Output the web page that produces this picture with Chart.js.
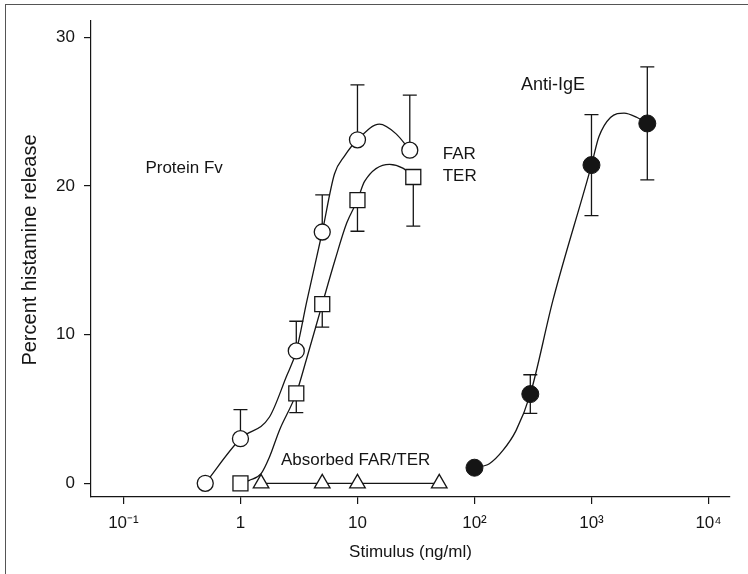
<!DOCTYPE html>
<html>
<head>
<meta charset="utf-8">
<script src="https://cdn.jsdelivr.net/npm/chart.js@4.4.1/dist/chart.umd.min.js"></script>
<style>
  html, body { margin: 0; padding: 0; background: #fff; }
  .wrap { position: relative; width: 748px; height: 574px; overflow: hidden; }
  .frame { position: absolute; left: 5px; top: 4px; width: 800px; height: 700px;
           border-left: 1.5px solid #555; border-top: 1.5px solid #555; }
  canvas { position: absolute; left: 0; top: 0; }
</style>
</head>
<body>
<div class="wrap">
  <div class="frame"></div>
  <canvas id="chart" width="748" height="574"></canvas>
</div>
<script>
'use strict';

// 軸の目盛り
const xTicks = [0.1, 1, 10, 100, 1000, 10000];
const xTickLabels = ['10⁻¹', '1', '10', '10²', '10³', '10⁴'];
const yTicks = [0, 10, 20, 30];

// FAR（白丸）: 測定点と上側エラーバー
const farX = [0.5, 1, 3, 5, 10, 28];
const farY = [0, 3, 8.9, 16.9, 23.1, 22.4];
const farErrUp = [0, 1.95, 2.0, 2.5, 3.7, 3.7];
// FAR フィット曲線
const farCurveX = [0.5, 1, 1.77, 2.46, 3, 3.68, 5, 6.36, 7.74, 10, 15.4, 21.4, 28];
const farCurveY = [0, 3, 4.46, 7.15, 8.9, 12.2, 16.9, 20.8, 22.0, 23.1, 24.15, 23.5, 22.4];

// TER（白四角）: 測定点と下側エラーバー
const terX = [1, 3, 5, 10, 30];
const terY = [0, 6.05, 12.05, 19.05, 20.6];
const terErrDown = [0, 1.3, 1.55, 2.1, 3.3];
// TER フィット曲線
const terCurveX = [1, 1.19, 1.5, 1.77, 2.15, 3, 3.64, 5, 6.42, 8.09, 10, 11.5, 18.8, 24.4, 30];
const terCurveY = [0, 0.2, 0.65, 1.77, 3.56, 6.05, 8.26, 12.05, 15.0, 17.5, 19.05, 20.3, 21.45, 21.2, 20.6];

// Absorbed FAR/TER（白三角）
const absX = [1.5, 5, 10, 50];
const absY = [0, 0, 0, 0];

// Anti-IgE（黒丸）: 測定点と上下エラーバー
const igeX = [100, 300, 1000, 3000];
const igeY = [1.05, 6.0, 21.4, 24.2];
const igeErr = [0, 1.3, 3.4, 3.8];
// Anti-IgE フィット曲線
const igeCurveX = [100, 134, 175, 227, 300, 468, 1000, 1157, 1453, 1900, 2455, 3000];
const igeCurveY = [1.05, 1.32, 2.21, 3.56, 6.0, 12.3, 21.4, 23.3, 24.6, 24.9, 24.6, 24.2];

const ink = '#151515';
const fontFamily = '"Liberation Sans", Arial, Helvetica, sans-serif';

const toPoints = (xs, ys) => xs.map((x, i) => ({ x: x, y: ys[i] }));

// 図中ラベル（データ座標で配置）
const notes = [
  { text: 'Protein Fv', x: 0.154, y: 21.17, size: 17 },
  { text: 'FAR', x: 53.5, y: 22.15, size: 17 },
  { text: 'TER', x: 53.5, y: 20.62, size: 17 },
  { text: 'Anti-IgE', x: 249.6, y: 26.79, size: 18 },
  { text: 'Absorbed FAR/TER', x: 2.22, y: 1.52, size: 17 },
];
const yTitle = 'Percent histamine release';

// エラーバー描画（capLow: 下端にもキャップを付けるか）
const errorBarPlugin = {
  id: 'errorBars',
  beforeDatasetsDraw(chart) {
    const xs = chart.scales.x;
    const ys = chart.scales.y;
    const ctx = chart.ctx;
    const cap = 7;
    const bars = [];
    farX.forEach((x, i) => { if (farErrUp[i] > 0) bars.push([x, farY[i], farY[i] + farErrUp[i], false]); });
    terX.forEach((x, i) => { if (terErrDown[i] > 0) bars.push([x, terY[i], terY[i] - terErrDown[i], false]); });
    igeX.forEach((x, i) => { if (igeErr[i] > 0) bars.push([x, igeY[i] - igeErr[i], igeY[i] + igeErr[i], true]); });
    ctx.save();
    ctx.strokeStyle = ink;
    ctx.lineWidth = 1.3;
    bars.forEach(([x, y0, y1, capLow]) => {
      const px = xs.getPixelForValue(x);
      const p0 = ys.getPixelForValue(y0);
      const p1 = ys.getPixelForValue(y1);
      ctx.beginPath();
      ctx.moveTo(px, p0);
      ctx.lineTo(px, p1);
      ctx.moveTo(px - cap, p1);
      ctx.lineTo(px + cap, p1);
      if (capLow) {
        ctx.moveTo(px - cap, p0);
        ctx.lineTo(px + cap, p0);
      }
      ctx.stroke();
    });
    ctx.restore();
  },
};

// テキストラベルと縦軸タイトル
const notePlugin = {
  id: 'notes',
  afterDatasetsDraw(chart) {
    const ctx = chart.ctx;
    const area = chart.chartArea;
    ctx.save();
    ctx.fillStyle = ink;
    ctx.textAlign = 'left';
    ctx.textBaseline = 'middle';
    notes.forEach((n) => {
      ctx.font = n.size + 'px ' + fontFamily;
      ctx.fillText(n.text, chart.scales.x.getPixelForValue(n.x), chart.scales.y.getPixelForValue(n.y));
    });
    // 縦軸タイトル（元図では少し上寄り）
    ctx.font = '20px ' + fontFamily;
    ctx.textAlign = 'center';
    ctx.translate(30, (area.top + area.bottom) / 2 - 9);
    ctx.rotate(-Math.PI / 2);
    ctx.fillText(yTitle, 0, 0);
    ctx.restore();
  },
};

const curveStyle = {
  showLine: true,
  pointRadius: 0,
  borderColor: ink,
  borderWidth: 1.3,
  cubicInterpolationMode: 'monotone',
  order: 2,
};

const ctx = document.getElementById('chart').getContext('2d');
const chart = new Chart(ctx, {
  type: 'scatter',
  data: {
    datasets: [
      { ...curveStyle, data: toPoints(farCurveX, farCurveY) },
      { ...curveStyle, data: toPoints(terCurveX, terCurveY) },
      { ...curveStyle, data: toPoints(igeCurveX, igeCurveY) },
      {
        data: toPoints(farX, farY),
        pointStyle: 'circle', pointRadius: 8,
        pointBackgroundColor: '#fff', pointBorderColor: ink, pointBorderWidth: 1.3,
        order: 1,
      },
      {
        data: toPoints(terX, terY),
        pointStyle: 'rect', pointRadius: 10.6,
        pointBackgroundColor: '#fff', pointBorderColor: ink, pointBorderWidth: 1.3,
        order: 1,
      },
      {
        data: toPoints(absX, absY),
        showLine: true, borderColor: ink, borderWidth: 1.3, tension: 0,
        pointStyle: 'triangle', pointRadius: 9,
        pointBackgroundColor: '#fff', pointBorderColor: ink, pointBorderWidth: 1.3,
        order: 1,
      },
      {
        data: toPoints(igeX, igeY),
        pointStyle: 'circle', pointRadius: 8.5,
        pointBackgroundColor: ink, pointBorderColor: ink, pointBorderWidth: 1,
        order: 1,
      },
    ],
  },
  options: {
    responsive: false,
    animation: false,
    events: [],
    layout: { padding: { left: 0, top: 21, right: 18, bottom: 0 } },
    plugins: {
      legend: { display: false },
      tooltip: { enabled: false },
    },
    scales: {
      x: {
        type: 'logarithmic',
        min: 0.0528,
        max: 15270,
        afterFit: (scale) => { scale.height = 77; },
        afterBuildTicks: (scale) => { scale.ticks = xTicks.map((v) => ({ value: v })); },
        grid: { drawOnChartArea: false, drawTicks: true, tickLength: 7, color: ink, lineWidth: 1.2 },
        border: { color: ink, width: 1.2 },
        ticks: {
          autoSkip: false, maxRotation: 0, padding: 9, color: ink,
          font: { family: fontFamily, size: 17 },
          callback: (v) => xTickLabels[xTicks.indexOf(v)],
        },
        title: {
          display: true, text: 'Stimulus (ng/ml)', color: ink,
          font: { family: fontFamily, size: 17 }, padding: { top: 0, bottom: 11 },
        },
      },
      y: {
        min: -0.92,
        max: 31.09,
        afterFit: (scale) => { scale.width = 91; },
        afterBuildTicks: (scale) => { scale.ticks = yTicks.map((v) => ({ value: v })); },
        grid: { drawOnChartArea: false, drawTicks: true, tickLength: 7, color: ink, lineWidth: 1.2 },
        border: { color: ink, width: 1.2 },
        ticks: {
          padding: 9, color: ink,
          font: { family: fontFamily, size: 17 },
        },
      },
    },
  },
  plugins: [errorBarPlugin, notePlugin],
});
</script>
</body>
</html>
